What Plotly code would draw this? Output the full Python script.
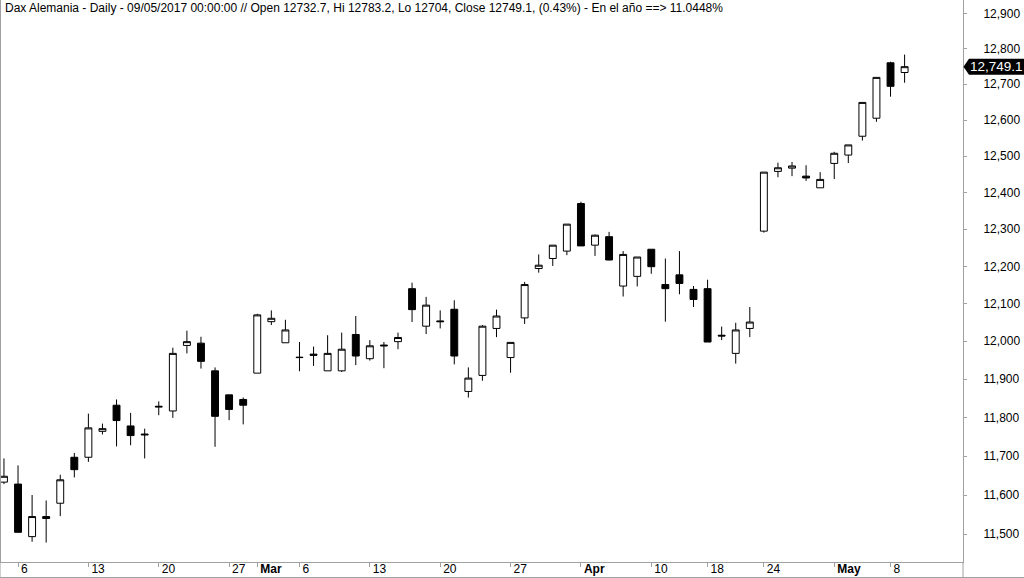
import math
import plotly.graph_objects as go

dates = ["2017-02-03", "2017-02-06", "2017-02-07", "2017-02-08", "2017-02-09", "2017-02-10",
         "2017-02-13", "2017-02-14", "2017-02-15", "2017-02-16", "2017-02-17",
         "2017-02-20", "2017-02-21", "2017-02-22", "2017-02-23", "2017-02-24",
         "2017-02-27", "2017-02-28", "2017-03-01", "2017-03-02", "2017-03-03",
         "2017-03-06", "2017-03-07", "2017-03-08", "2017-03-09", "2017-03-10",
         "2017-03-13", "2017-03-14", "2017-03-15", "2017-03-16", "2017-03-17",
         "2017-03-20", "2017-03-21", "2017-03-22", "2017-03-23", "2017-03-24",
         "2017-03-27", "2017-03-28", "2017-03-29", "2017-03-30", "2017-03-31",
         "2017-04-03", "2017-04-04", "2017-04-05", "2017-04-06", "2017-04-07",
         "2017-04-10", "2017-04-11", "2017-04-12", "2017-04-13",
         "2017-04-18", "2017-04-19", "2017-04-20", "2017-04-21",
         "2017-04-24", "2017-04-25", "2017-04-26", "2017-04-27", "2017-04-28",
         "2017-05-02", "2017-05-03", "2017-05-04", "2017-05-05",
         "2017-05-08", "2017-05-09"]

opens = [11633, 11628, 11494, 11545, 11579, 11697,
         11697, 11764, 11832, 11778, 11757,
         11827, 11817, 11989, 11995, 11922,
         11859, 11847, 11916, 12052, 11996,
         11958, 11966, 11922, 11922, 12018,
         11954, 11990, 11999, 12140, 12040,
         12054, 12085, 11868, 11910, 12034,
         11957, 12062, 12194, 12221, 12241,
         12370, 12257, 12280, 12147, 12173,
         12246, 12151, 12177, 12138,
         12140, 12016, 11968, 12034,
         12295, 12458, 12467, 12445, 12413,
         12480, 12503, 12555, 12605,
         12760, 12732.7]

highs = [11694, 11676, 11600, 11586, 11652, 11708,
         11810, 11784, 11847, 11812, 11771,
         11842, 11983, 12028, 12012, 11931,
         11859, 11852, 12073, 12082, 12057,
         11998, 11986, 12016, 12023, 12067,
         12003, 11998, 12023, 12156, 12118,
         12082, 12109, 11931, 12043, 12084,
         11997, 12158, 12232, 12257, 12314,
         12375, 12286, 12293, 12241, 12225,
         12246, 12221, 12241, 12147,
         12164, 12039, 12049, 12091,
         12456, 12482, 12484, 12475, 12456,
         12512, 12531, 12649, 12719,
         12763, 12783.2]

lows = [11628, 11505, 11481, 11479, 11546, 11645,
        11685, 11756, 11725, 11728, 11694,
        11806, 11799, 11968, 11928, 11724,
        11793, 11782, 11916, 12043, 11996,
        11921, 11935, 11922, 11919, 11937,
        11949, 11929, 11979, 12051, 12019,
        12034, 11939, 11852, 11896, 12011,
        11917, 12046, 12183, 12201, 12230,
        12255, 12228, 12216, 12119, 12146,
        12180, 12052, 12125, 12091,
        11998, 12003, 11941, 12011,
        12291, 12442, 12445, 12432, 12413,
        12437, 12481, 12543, 12595,
        12665, 12704]

closes = [11648, 11505, 11545, 11540, 11639, 11665,
          11773, 11771, 11792, 11753, 11755,
          11829, 11968, 11999, 11947, 11803,
          11821, 11832, 12070, 12061, 12030,
          11957, 11963, 11968, 11979, 11961,
          11988, 11988, 12010, 12084, 12096,
          12052, 11961, 11903, 12040, 12067,
          11997, 12151, 12203, 12257, 12314,
          12255, 12284, 12217, 12232, 12225,
          12199, 12140, 12154, 12111,
          11998, 12014, 12030, 12051,
          12456, 12468, 12473, 12440, 12436,
          12508, 12531, 12649, 12719,
          12694, 12749.1]

tick_dates = ["2017-02-06", "2017-02-13", "2017-02-20", "2017-02-27", "2017-03-01",
              "2017-03-06", "2017-03-13", "2017-03-20", "2017-03-27", "2017-04-03",
              "2017-04-10", "2017-04-18", "2017-04-24", "2017-05-02", "2017-05-08"]
tick_labels = ["6", "13", "20", "27", "<b>Mar</b>", "6", "13", "20", "27", "<b>Apr</b>",
               "10", "18", "24", "<b>May</b>", "8"]

price_ticks = list(range(11500, 12901, 100))

title_text = ("Dax Alemania - Daily - 09/05/2017 00:00:00 // Open 12732.7, Hi 12783.2, "
              "Lo 12704, Close 12749.1, (0.43%) - En el año ==> 11.0448%")
last_price = closes[-1]

FONT = "Liberation Sans, Arial, sans-serif"
GRAY = "#a0a0a0"

y_lo, y_hi = 11429.9, 12937.9
W, H = 1024, 578
ml, mr, mt, mb = 1, 61, 0, 16
plot_w = W - ml - mr
plot_h = H - mt - mb

fig = go.Figure()
fig.add_trace(go.Candlestick(
    x=dates, open=opens, high=highs, low=lows, close=closes,
    increasing=dict(fillcolor="#ffffff", line=dict(color="#000000", width=1)),
    decreasing=dict(fillcolor="#000000", line=dict(color="#000000", width=1)),
    whiskerwidth=0, hoverinfo="skip", showlegend=False,
))

fig.update_layout(
    width=W, height=H,
    margin=dict(l=ml, r=mr, t=mt, b=mb, pad=0, autoexpand=False),
    paper_bgcolor="#ffffff", plot_bgcolor="#ffffff",
    font=dict(family=FONT, size=12, color="#000000"),
    showlegend=False,
    xaxis=dict(
        type="category", range=[-0.21, 68.15], automargin=False,
        rangeslider=dict(visible=False),
        showgrid=False, zeroline=False,
        showline=True, linecolor=GRAY, linewidth=1,
        ticks="outside", ticklen=4, tickcolor=GRAY, tickwidth=1,
        tickvals=tick_dates, ticktext=tick_labels,
        ticklabelposition="outside right",
        ticklabelstandoff=-4, ticklabelshift=2,
        tickfont=dict(family=FONT, size=12, color="#000000"),
    ),
    yaxis=dict(
        type="log", side="right", automargin=False,
        range=[math.log10(y_lo), math.log10(y_hi)],
        showgrid=False, zeroline=False,
        showline=True, linecolor=GRAY, linewidth=1, mirror=True,
        ticks="outside", ticklen=3, tickcolor=GRAY, tickwidth=1,
        tickvals=price_ticks, tickformat=",d",
        ticklabelstandoff=14,
        tickfont=dict(family=FONT, size=12, color="#000000"),
    ),
)

# title text
fig.add_annotation(
    text=title_text, xref="paper", yref="paper", x=0, y=1,
    xanchor="left", yanchor="top", xshift=2, yshift=1, showarrow=False,
    font=dict(family=FONT, size=12, color="#000000"),
)

# last price marker
py = (math.log10(last_price) - math.log10(y_lo)) / (math.log10(y_hi) - math.log10(y_lo))
half_h = 8.0 / plot_h
tip_w = 6.0 / plot_w
right_edge = (W - ml) / plot_w
fig.add_shape(
    type="path", xref="paper", yref="paper",
    path=(f"M 1.0005 {py} L {1 + tip_w} {py + half_h} L {right_edge} {py + half_h} "
          f"L {right_edge} {py - half_h} L {1 + tip_w} {py - half_h} Z"),
    fillcolor="#000000", line=dict(width=0),
)
fig.add_annotation(
    text=f"{last_price:,.1f}", xref="paper", yref="paper", x=right_edge, y=py,
    xanchor="right", yanchor="middle", xshift=0, showarrow=False, borderpad=0,
    font=dict(family=FONT, size=13.5, color="#ffffff"),
)

# frame lines around the axis band
band = -mb / plot_h
fig.add_shape(type="line", xref="paper", yref="paper", x0=1, x1=1, y0=band, y1=0,
              line=dict(color=GRAY, width=1))
fig.add_shape(type="line", xref="paper", yref="paper", x0=-ml / plot_w, x1=-ml / plot_w,
              y0=band, y1=1, line=dict(color=GRAY, width=1))
fig.add_shape(type="line", xref="paper", yref="paper", x0=-ml / plot_w, x1=right_edge,
              y0=band + 0.5 / plot_h, y1=band + 0.5 / plot_h, line=dict(color=GRAY, width=1))

fig.write_html("out.html", config={"displayModeBar": False},
               post_script="document.body.style.margin='0';document.body.style.overflow='hidden';")
